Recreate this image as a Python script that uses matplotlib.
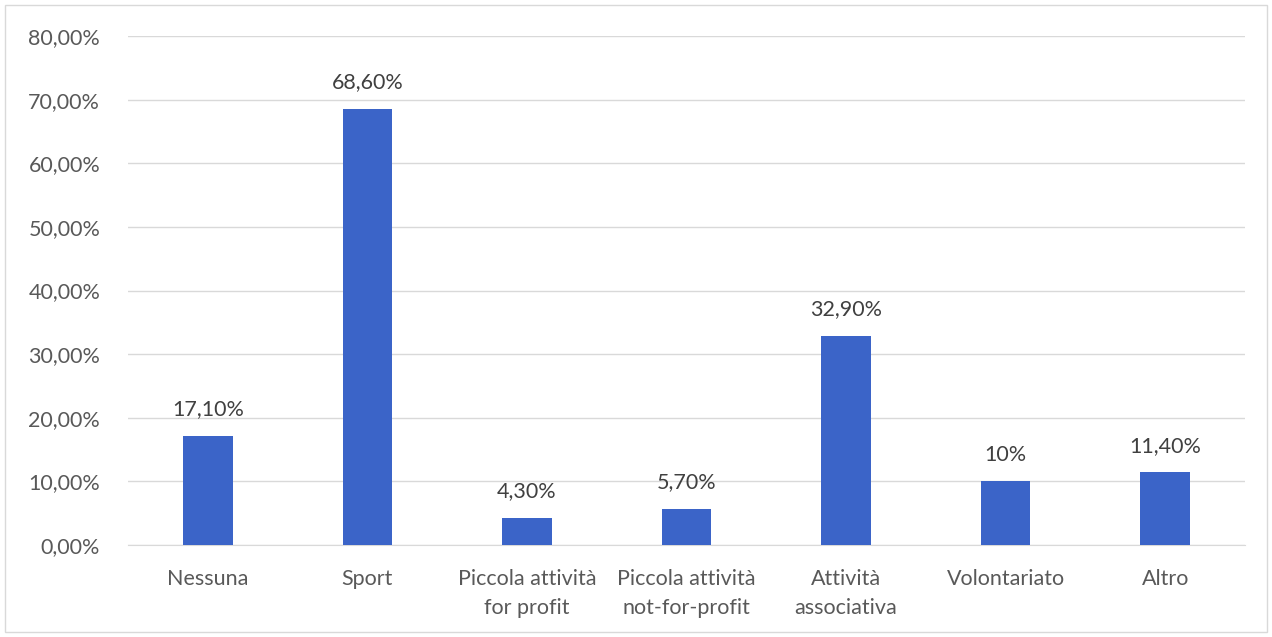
import matplotlib
matplotlib.use("Agg")
import matplotlib.pyplot as plt
from matplotlib.patches import Rectangle

categories = ["Nessuna", "Sport", "Piccola attività\nfor profit", "Piccola attività\nnot-for-profit",
              "Attività\nassociativa", "Volontariato", "Altro"]
values = [0.171, 0.686, 0.043, 0.057, 0.329, 0.10, 0.114]
value_labels = ["17,10%", "68,60%", "4,30%", "5,70%", "32,90%", "10%", "11,40%"]
yticks = [0.0, 0.1, 0.2, 0.3, 0.4, 0.5, 0.6, 0.7, 0.8]
ytick_labels = ["0,00%", "10,00%", "20,00%", "30,00%", "40,00%", "50,00%", "60,00%", "70,00%", "80,00%"]

plt.rcParams['font.family'] = ['Lato', 'DejaVu Sans']
text_color = "#595959"
fs = 15.5

fig = plt.figure(figsize=(12.72, 6.37), dpi=100)
ax = fig.add_axes([128/1272, 1-545/637, (1245-128)/1272, (545-36)/637])

x = list(range(len(categories)))
ax.bar(x, values, width=0.31, color="#3B64C8", zorder=3)
for xi, v, lab in zip(x, values, value_labels):
    ax.annotate(lab, (xi, v), xytext=(0, 12), textcoords="offset points",
                ha="center", va="bottom", fontsize=fs, color="#404040")

ax.set_xlim(-0.5, len(categories) - 0.5)
ax.set_ylim(0, 0.8)
ax.set_yticks(yticks)
ax.set_yticklabels(ytick_labels, fontsize=fs, color=text_color)
ax.set_xticks(x)
ax.set_xticklabels(categories, fontsize=fs, color=text_color, linespacing=1.6)
ax.tick_params(axis="both", length=0)
ax.tick_params(axis="x", pad=17)
ax.tick_params(axis="y", pad=20)
ax.grid(axis="y", color="#D9D9D9", linewidth=1, zorder=0)
for s in ["top", "right", "left"]:
    ax.spines[s].set_visible(False)
ax.spines["bottom"].set_color("#D9D9D9")

fig.patches.append(Rectangle((5/1272, 5/637), 1262/1272, 627/637, transform=fig.transFigure,
                             fill=False, edgecolor="#D9D9D9", linewidth=1))

fig.savefig("out.png", dpi=100)
